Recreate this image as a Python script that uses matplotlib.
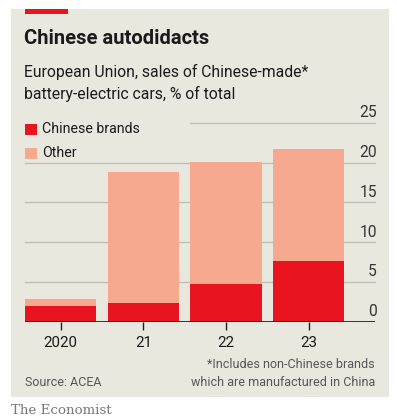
import matplotlib.pyplot as plt
from matplotlib.patches import Rectangle

# Data (% of EU battery-electric car sales)
years = ["2020", "21", "22", "23"]
chinese_brands = [2.0, 2.4, 4.7, 7.6]
other = [0.9, 16.4, 15.4, 14.1]
y_ticks = [0, 5, 10, 15, 20, 25]

RED = "#E8141F"
SALMON = "#F7A98F"
BG = "#E9E8DF"
TXT = "#1A1A1A"

W, H = 397, 420
fig = plt.figure(figsize=(W / 100, H / 100), dpi=100)
fig.patch.set_facecolor("white")


# helpers to work in pixel coords (origin top-left)
def fx(px):
    return px / W


def fy(py):
    return 1 - py / H


font = "Roboto"

# background panel
fig.patches.append(Rectangle((fx(11), fy(397)), fx(378), (397 - 9) / H,
                             transform=fig.transFigure, facecolor=BG,
                             edgecolor="none", zorder=-5))
# red tag at top
fig.patches.append(Rectangle((fx(25), fy(14)), fx(43), 5 / H,
                             transform=fig.transFigure, facecolor=RED,
                             edgecolor="none", zorder=1))

fig.text(fx(24), fy(38), "Chinese autodidacts", fontsize=14.5, fontweight="bold",
         family=font, color=TXT, va="center", ha="left")
fig.text(fx(24), fy(72), "European Union, sales of Chinese-made*", fontsize=11.3,
         family=font, color=TXT, va="center", ha="left")
fig.text(fx(24), fy(94), "battery-electric cars, % of total", fontsize=11.3,
         family=font, color=TXT, va="center", ha="left")

# chart axes
ax = fig.add_axes([fx(25), fy(321.7), fx(350), 199 / H])
ax.set_zorder(2)
ax.set_facecolor("none")
x = list(range(len(years)))
ax.bar(x, chinese_brands, width=0.86, color=RED, zorder=3)
ax.bar(x, other, width=0.86, bottom=chinese_brands, color=SALMON, zorder=3)

ax.set_xlim(-0.43, 3.80)
ax.set_ylim(0, 25)

for t in y_ticks:
    if t == 0:
        continue
    # top gridline breaks under the legend
    x0 = 0.47 if t == 25 else 0.0
    ax.plot([x0, 1.0], [t, t], transform=ax.get_yaxis_transform(),
            color="#BDBDB5", lw=0.9, zorder=1, clip_on=False)
for t in y_ticks:
    ax.text(1.005, t + 1.25, str(t), transform=ax.get_yaxis_transform(),
            ha="right", va="center", fontsize=11.2, family=font, color="#333333")

ax.axhline(0, color="#222222", lw=1.3, zorder=4)
for s in ax.spines.values():
    s.set_visible(False)
ax.set_yticks([])
ax.set_xticks(x)
ax.set_xticklabels(years, family=font, fontsize=10.8, color=TXT)
ax.tick_params(axis="x", length=6, width=1, color="#222222", pad=4)

# legend as manual patches
for i, (lab, col) in enumerate([("Chinese brands", RED), ("Other", SALMON)]):
    cy = 129 + i * 24
    fig.patches.append(Rectangle((fx(25), fy(cy + 5.5)), fx(11.5), 11 / H,
                                 transform=fig.transFigure, facecolor=col,
                                 edgecolor="none", zorder=5))
    fig.text(fx(42), fy(cy), lab, fontsize=10.2, family=font, color=TXT,
             va="center", ha="left")

fig.text(fx(375), fy(365), "*Includes non-Chinese brands", fontsize=9,
         family=font, color="#555555", va="center", ha="right")
fig.text(fx(375), fy(383), "which are manufactured in China", fontsize=9,
         family=font, color="#555555", va="center", ha="right")
fig.text(fx(25), fy(383), "Source: ACEA", fontsize=9,
         family=font, color="#555555", va="center", ha="left")
fig.text(fx(11), fy(411), "The Economist", fontsize=9.6,
         family="DejaVu Serif", color="#777777", va="center", ha="left")

fig.savefig("out.png", dpi=100, facecolor="white")
